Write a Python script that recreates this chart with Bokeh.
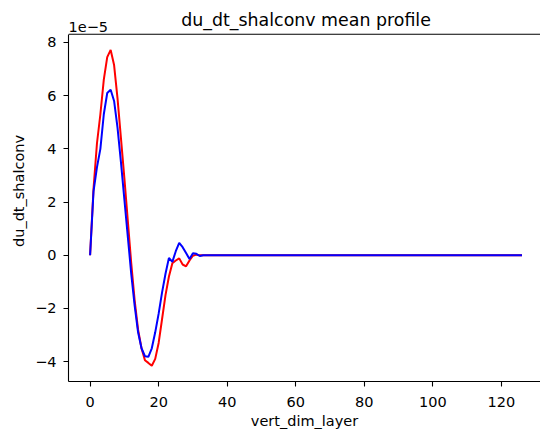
from bokeh.plotting import figure
from bokeh.models import Range1d, Span, Label, FixedTicker, CustomJSTickFormatter
from bokeh.embed import file_html
from bokeh.resources import INLINE

# Data (values in units of 1e-5)
SCALE = 1e-5
layer = list(range(127))
red_head = [0.0, 2.5, 4.2, 5.3, 6.6, 7.45, 7.72, 7.15, 5.9, 4.4,
            2.9, 1.3, -0.3, -1.7, -2.8, -3.5, -3.95, -4.05, -4.16, -3.9,
            -3.3, -2.4, -1.5, -0.8, -0.3, -0.2, -0.12, -0.35, -0.42, -0.2,
            -0.02, 0.02, 0.0]
blue_head = [0.0, 2.4, 3.3, 4.0, 5.3, 6.1, 6.22, 5.8, 4.8, 3.5,
             2.1, 0.7, -0.7, -1.9, -2.9, -3.5, -3.8, -3.82, -3.5, -2.9,
             -2.2, -1.4, -0.7, -0.1, -0.25, 0.15, 0.46, 0.3, 0.08, -0.14,
             0.07, 0.05, -0.03]
red_tail = [0.0] * (127 - len(red_head))
blue_tail = [0.0] * (127 - len(blue_head))
red_vals = red_head + red_tail
blue_vals = blue_head + blue_tail
y_ticks = [-4, -2, 0, 2, 4, 6, 8]
x_ticks = [0, 20, 40, 60, 80, 100, 120]
title_text = "du_dt_shalconv mean profile"
x_label = "vert_dim_layer"
y_label = "du_dt_shalconv"
offset_text = "1e\u22125"

FONT = "DejaVu Sans"
# axes box (matplotlib-like): x -6.3..132.3, y -4.75..8.31 (x1e-5)
x_lo, x_hi_axes = -6.3, 132.3
x_hi_view = 131.4
y_lo, y_spine = -4.75 * SCALE, 8.31 * SCALE
y_view_top = 9.578 * SCALE   # extra room above the axes for title / offset text

p = figure(width=540, height=435, output_backend="svg", toolbar_location=None,
           title=None,
           x_range=Range1d(x_lo, x_hi_view), y_range=Range1d(y_lo, y_view_top),
           min_border_left=68, min_border_right=0, min_border_top=0,
           min_border_bottom=54)
p.background_fill_color = "white"
p.border_fill_color = "white"
p.outline_line_color = None
p.grid.visible = False

p.line(layer, [v * SCALE for v in red_vals], line_color="red", line_width=2)
p.line(layer, [v * SCALE for v in blue_vals], line_color="blue", line_width=2)

# top spine of the axes box
p.add_layout(Span(location=y_spine, dimension="width", line_color="black", line_width=1.1))

for ax in (p.xaxis[0], p.yaxis[0]):
    ax.axis_line_color = "black"
    ax.axis_line_width = 1.1
    ax.major_tick_line_color = "black"
    ax.major_tick_line_width = 1.1
    ax.major_tick_out = 5
    ax.major_tick_in = 0
    ax.minor_tick_line_color = None
    ax.major_label_text_font = FONT
    ax.major_label_text_font_size = "14.5px"
    ax.major_label_text_color = "black"
    ax.axis_label_text_font = FONT
    ax.axis_label_text_font_size = "14.5px"
    ax.axis_label_text_font_style = "normal"
    ax.axis_label_text_color = "black"

p.xaxis.ticker = FixedTicker(ticks=x_ticks)
p.xaxis.axis_label = x_label
p.xaxis.major_label_standoff = 10
p.xaxis.axis_label_standoff = 3

p.yaxis.bounds = (y_lo, y_spine)
p.yaxis.ticker = FixedTicker(ticks=[t * SCALE for t in y_ticks])
p.yaxis.formatter = CustomJSTickFormatter(code="""
    const v = Math.round(tick * 1e5);
    return v < 0 ? '\u2212' + Math.abs(v) : String(v);
""")
p.yaxis.axis_label = y_label
p.yaxis.major_label_standoff = 7
p.yaxis.axis_label_standoff = 5

# title centred over the axes box
p.add_layout(Label(x=(x_lo + x_hi_axes) / 2, y=y_spine, y_offset=14.5, text=title_text,
                   text_align="center", text_baseline="alphabetic",
                   text_font=FONT, text_font_size="17.4px", text_color="black"))
# scientific offset text
p.add_layout(Label(x=x_lo, y=y_spine, y_offset=7.5, text=offset_text,
                   text_align="left", text_baseline="alphabetic",
                   text_font=FONT, text_font_size="14.5px", text_color="black"))

open("out.html", "w").write(file_html(p, INLINE))
